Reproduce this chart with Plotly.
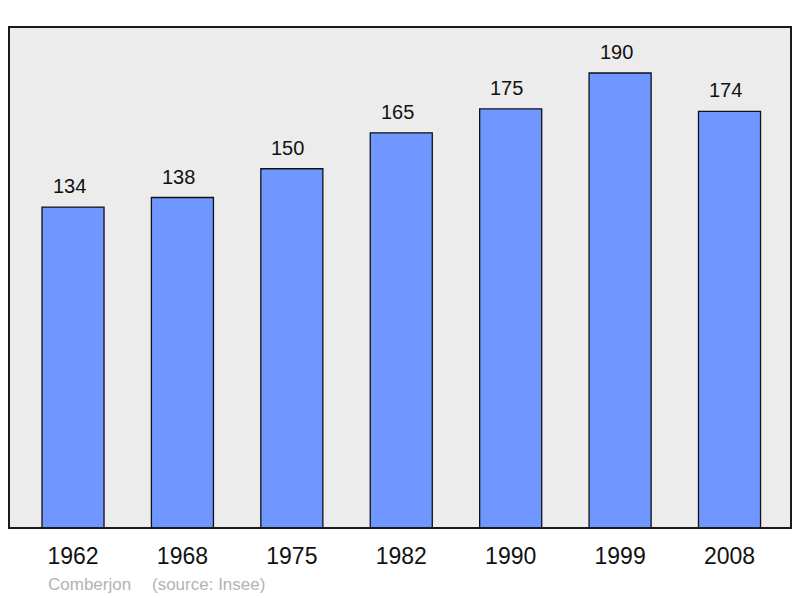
import plotly.graph_objects as go

years = ["1962", "1968", "1975", "1982", "1990", "1999", "2008"]
population = [134, 138, 150, 165, 175, 190, 174]
commune = "Comberjon"
source = "(source: Insee)"

xs = list(range(len(years)))

fig = go.Figure()
fig.add_trace(go.Bar(
    x=xs, y=population, width=0.567,
    marker=dict(color="#7096ff", line=dict(color="#111111", width=1.3)),
    hoverinfo="skip",
))

for x, v in zip(xs, population):
    fig.add_annotation(x=x, y=v, text=str(v), showarrow=False, yanchor="bottom",
                       yshift=8, xshift=-4, font=dict(size=20, color="#111111"))

fig.add_annotation(xref="paper", yref="paper", x=0.047, y=-0.112, xanchor="left", yanchor="middle",
                   text=commune, showarrow=False, font=dict(size=17, color="#b3b3b3"))
fig.add_annotation(xref="paper", yref="paper", x=0.180, y=-0.112, xanchor="left", yanchor="middle",
                   text=source, showarrow=False, font=dict(size=17, color="#b3b3b3"))

fig.add_shape(type="rect", xref="paper", yref="paper", x0=0, y0=0, x1=1, y1=1,
              line=dict(color="#1a1a1a", width=2), layer="above")

fig.update_layout(
    width=792, height=590,
    margin=dict(l=1, r=9, t=19, b=70),
    paper_bgcolor="white", plot_bgcolor="#ececec",
    font=dict(family="Liberation Sans, Arial, sans-serif", color="#111111"),
    showlegend=False,
    xaxis=dict(range=[-0.585, 6.562], tickvals=xs, ticktext=years, showgrid=False,
               zeroline=False, ticks="", tickfont=dict(size=23), ticklabelstandoff=12),
    yaxis=dict(range=[0, 209.2], showgrid=False, zeroline=False, showticklabels=False, ticks=""),
)

fig.write_html("out.html")
